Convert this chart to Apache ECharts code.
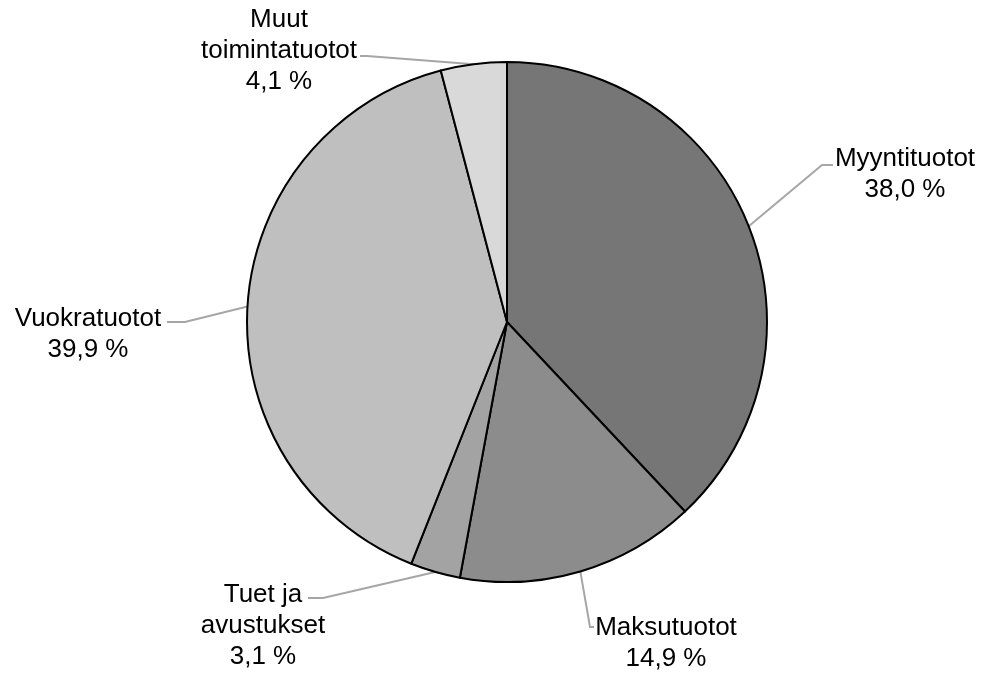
<!DOCTYPE html>
<html>
<head>
<meta charset="utf-8">
<script src="https://cdn.jsdelivr.net/npm/echarts@6/dist/echarts.min.js"></script>
<style>
  html, body { margin: 0; padding: 0; background: #fff; }
  #main { width: 989px; height: 673px; }
</style>
</head>
<body>
<div id="main"></div>
<script>
// tuottojen jakauma, %
var categories = ['Myyntituotot', 'Maksutuotot', 'Tuet ja\navustukset', 'Vuokratuotot', 'Muut\ntoimintatuotot'];
var shares = [38.0, 14.9, 3.1, 39.9, 4.1];
var sliceColors = ['#767676', '#8c8c8c', '#a3a3a3', '#bfbfbf', '#d9d9d9'];
// label block centres
var labelPos = [[905, 174], [666, 643], [263, 626], [88, 334], [279, 51]];
// leader line: elbow and end (start comes from the pie itself)
var lineEnds = [
  [[822, 165], [833, 165]],
  [[590, 627], [594, 627]],
  [[323, 598], [308, 598]],
  [[185, 322], [167, 322]],
  [[367, 56], [360, 56]]
];

var chart = echarts.init(document.getElementById('main'));

var data = categories.map(function (c, i) {
  return { name: c, value: shares[i], itemStyle: { color: sliceColors[i] } };
});

chart.setOption({
  animation: false,
  series: [{
    type: 'pie',
    center: [507, 322],
    radius: 260,
    startAngle: 90,
    clockwise: true,
    itemStyle: { borderColor: '#000', borderWidth: 2 },
    label: {
      show: true,
      position: 'outside',
      color: '#000',
      fontFamily: '"Liberation Sans", Arial, sans-serif',
      fontSize: 26,
      lineHeight: 31,
      align: 'center',
      formatter: function (p) {
        return p.name + '\n' + p.value.toFixed(1).replace('.', ',') + ' %';
      }
    },
    labelLine: {
      show: true,
      length: 20,
      length2: 20,
      lineStyle: { color: '#a6a6a6', width: 2 }
    },
    labelLayout: function (p) {
      var i = p.dataIndex;
      var pos = labelPos[i];
      var out = { x: pos[0], y: pos[1], align: 'center', verticalAlign: 'middle' };
      if (p.labelLinePoints && p.labelLinePoints[0]) {
        out.labelLinePoints = [p.labelLinePoints[0].slice(), lineEnds[i][0], lineEnds[i][1]];
      }
      return out;
    },
    data: data
  }]
});
</script>
</body>
</html>
